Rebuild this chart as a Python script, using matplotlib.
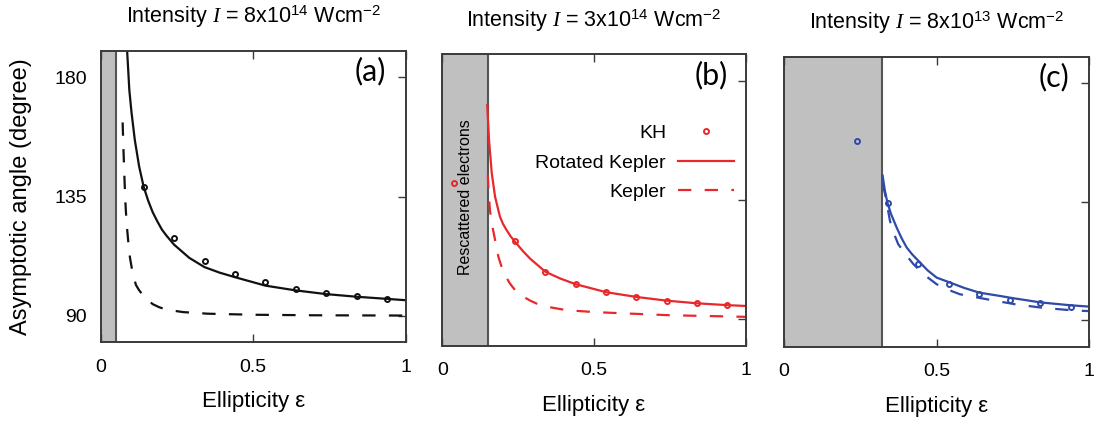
import matplotlib
matplotlib.use("Agg")
import matplotlib.pyplot as plt

plt.rcParams['font.family'] = ['Liberation Sans', 'DejaVu Sans']
plt.rcParams['mathtext.fontset'] = 'custom'
plt.rcParams['mathtext.rm'] = 'Liberation Sans'
plt.rcParams['mathtext.it'] = 'Liberation Serif:italic'
plt.rcParams['mathtext.bf'] = 'Liberation Sans:bold'

# ---------------- data ----------------
titles = [r"Intensity $\mathit{I}$ = 8x10$^{14}$ Wcm$^{-2}$",
          r"Intensity $\mathit{I}$ = 3x10$^{14}$ Wcm$^{-2}$",
          r"Intensity $\mathit{I}$ = 8x10$^{13}$ Wcm$^{-2}$"]
panel_labels = ["(a)", "(b)", "(c)"]
colors = ["#111111", "#e8282b", "#2f4aa8"]
gray_limits = [0.05, 0.15, 0.32]

# panel (a)
kh_eps_a = [0.14, 0.24, 0.34, 0.44, 0.54, 0.64, 0.74, 0.84, 0.94]
kh_ang_a = [138.7, 119.5, 110.8, 105.8, 102.5, 100.2, 98.4, 97.3, 96.3]
rot_eps_a = [0.086, 0.093, 0.10, 0.111, 0.125, 0.14, 0.155, 0.17, 0.185, 0.20,
             0.215, 0.24, 0.29, 0.34, 0.39, 0.44, 0.54, 0.64, 0.74, 0.84, 0.94, 1.0]
rot_ang_a = [189.7, 175.3, 167.0, 156.4, 146.5, 138.7, 133.4, 129.0, 125.6, 122.5,
             120.2, 116.8, 111.8, 108.3, 106.2, 104.5, 101.3, 99.5, 98.1, 97.1, 96.3, 95.8]
kep_eps_a = [0.071, 0.074, 0.077, 0.080, 0.084, 0.089, 0.095, 0.102, 0.108, 0.115,
             0.125, 0.137, 0.15, 0.17, 0.19, 0.21, 0.24, 0.27, 0.35, 0.5, 0.7, 1.0]
kep_ang_a = [163.0, 152.0, 142.0, 133.0, 125.0, 118.6, 112.0, 107.3, 104.2, 101.5,
             99.6, 97.8, 96.2, 94.3, 93.2, 92.4, 91.8, 91.3, 90.7, 90.3, 90.1, 90.0]

# panel (b)
kh_eps_b = [0.04, 0.24, 0.34, 0.44, 0.54, 0.64, 0.74, 0.84, 0.94]
kh_ang_b = [141.5, 119.4, 108.0, 103.2, 100.2, 98.4, 97.0, 96.0, 95.3]
rot_eps_b = [0.148, 0.154, 0.163, 0.174, 0.19, 0.20, 0.21, 0.225, 0.24, 0.265,
             0.29, 0.34, 0.39, 0.44, 0.54, 0.64, 0.74, 0.84, 0.94, 1.0]
rot_ang_b = [170.9, 157.7, 145.1, 136.2, 128.7, 126.0, 124.0, 121.3, 119.2, 115.8,
             112.8, 107.9, 105.3, 103.2, 100.2, 98.4, 97.0, 96.0, 95.3, 95.0]
kep_eps_b = [0.15, 0.153, 0.157, 0.165, 0.174, 0.185, 0.199, 0.21, 0.22, 0.23,
             0.24, 0.255, 0.27, 0.29, 0.311, 0.36, 0.41, 0.5, 0.6, 0.75, 1.0]
kep_ang_b = [144.5, 137.0, 131.2, 125.0, 119.9, 113.5, 108.5, 106.0, 104.0, 102.4,
             101.0, 99.5, 98.3, 97.0, 95.9, 94.4, 93.4, 92.7, 92.2, 91.5, 90.9]

# panel (c)
kh_eps_c = [0.24, 0.34, 0.44, 0.54, 0.64, 0.74, 0.84, 0.94]
kh_ang_c = [158.1, 134.4, 111.3, 103.7, 100.0, 97.7, 96.4, 95.2]
rot_eps_c = [0.323, 0.33, 0.338, 0.35, 0.369, 0.385, 0.402, 0.42, 0.44, 0.47,
             0.5, 0.54, 0.59, 0.64, 0.71, 0.74, 0.84, 0.94, 1.0]
rot_ang_c = [144.9, 139.5, 135.0, 130.5, 125.2, 121.2, 117.6, 115.0, 112.6, 109.0,
             106.2, 104.5, 102.3, 100.5, 99.2, 98.6, 96.8, 95.7, 95.2]
kep_eps_c = [0.323, 0.331, 0.347, 0.36, 0.374, 0.40, 0.424, 0.46, 0.5, 0.54,
             0.576, 0.664, 0.757, 0.844, 0.942, 1.0]
kep_ang_c = [141.7, 137.9, 127.8, 123.0, 118.9, 114.8, 111.3, 107.2, 103.7, 101.5,
             99.9, 98.0, 96.1, 94.8, 93.8, 93.5]

x_ticks = [0, 0.5, 1]
x_ticklabels = ["0", "0.5", "1"]
y_ticks = [90, 135, 180]
y_ticklabels = ["90", "135", "180"]

panels = [
    (kh_eps_a, kh_ang_a, rot_eps_a, rot_ang_a, kep_eps_a, kep_ang_a),
    (kh_eps_b, kh_ang_b, rot_eps_b, rot_ang_b, kep_eps_b, kep_ang_b),
    (kh_eps_c, kh_ang_c, rot_eps_c, rot_ang_c, kep_eps_c, kep_ang_c),
]

# ---------------- figure ----------------
W, H = 1097, 426
fig = plt.figure(figsize=(W / 100, H / 100), dpi=100)
boxes_px = [(101, 51, 405.5, 342), (442.3, 54.3, 745.7, 345.7), (784, 56.7, 1089.3, 346.7)]

spine_col = "#3a3a3a"
for i, (box, data) in enumerate(zip(boxes_px, panels)):
    l, t, r, b = box
    ax = fig.add_axes([l / W, 1 - b / H, (r - l) / W, (b - t) / H])
    kh_e, kh_a, rot_e, rot_a, kep_e, kep_a = data
    col = colors[i]

    ax.axvspan(0, gray_limits[i], color="#c0c0c0", zorder=1, lw=0)
    ax.axvline(gray_limits[i], color="#555555", lw=1.5, zorder=2)

    ln_rot, = ax.plot(rot_e, rot_a, color=col, lw=1.6, zorder=3, label="Rotated Kepler")
    ln_kep, = ax.plot(kep_e, kep_a, color=col, lw=1.6, ls=(0, (6, 6)), zorder=3, label="Kepler")
    ln_kh, = ax.plot(kh_e, kh_a, ls="none", marker="o", ms=3.6, mfc="none", mec=col,
                     mew=1.4, zorder=4, label="KH")

    ax.set_xlim(0, 1)
    ax.set_ylim(80, 190)
    ax.set_xticks(x_ticks)
    ax.set_xticklabels(x_ticklabels)
    ax.set_yticks(y_ticks)
    ax.set_yticklabels(y_ticklabels)
    ax.tick_params(axis="both", direction="in", length=6, width=1, color=spine_col,
                   labelsize=14, top=True, right=True, left=False)
    ax.tick_params(axis="x", pad=12)
    ax.tick_params(axis="y", pad=10, labelleft=(i == 0))
    for s in ax.spines.values():
        s.set_color(spine_col)
        s.set_linewidth(1.4)
        s.set_zorder(5)

    ax.set_xlabel("Ellipticity ε", fontsize=16, labelpad=11)
    if i == 0:
        ax.set_ylabel("Asymptotic angle (degree)", fontsize=17, labelpad=16)
    ax.set_title(titles[i], fontsize=15.5, pad=20)
    ax.text(0.885, 0.93, panel_labels[i], transform=ax.transAxes, fontsize=22,
            family="Lato", ha="center", va="center")

    if i == 1:
        ax.text(0.077, 136, "Rescattered electrons", rotation=90, fontsize=11.5,
                ha="center", va="center", zorder=6)
        ax.legend(handles=[ln_kh, ln_rot, ln_kep], loc="upper right",
                  bbox_to_anchor=(0.962, 0.76), frameon=False, markerfirst=False,
                  fontsize=14, handlelength=2.9, handletextpad=0.6,
                  labelspacing=0.62, borderpad=0, borderaxespad=0)

fig.savefig("out.png", dpi=100)
